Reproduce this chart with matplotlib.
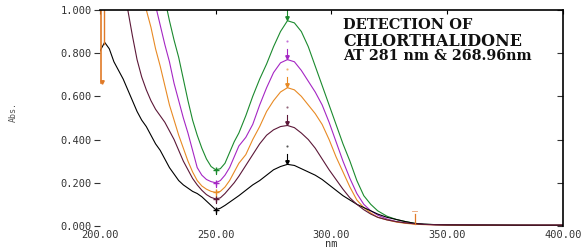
import matplotlib
matplotlib.use('Agg')
import matplotlib.pyplot as plt
import numpy as np

# wavelength grid (nm) shared by all spectra
wl = [200, 202, 204, 206, 208, 210, 212, 214, 216, 218, 220, 222, 224, 226, 228,
      230, 232, 234, 236, 238, 240, 242, 244, 246, 248, 250, 252, 254, 256, 258,
      260, 263, 266, 269, 272, 275, 278, 281, 284, 287, 290, 293, 296, 299, 302,
      305, 308, 311, 314, 317, 320, 324, 328, 332, 336, 340, 345, 350, 360, 370,
      380, 390, 400]

abs_black = [0.81, 0.85, 0.82, 0.76, 0.72, 0.68, 0.63, 0.58, 0.53, 0.49, 0.46, 0.42,
             0.38, 0.35, 0.31, 0.27, 0.24, 0.21, 0.19, 0.175, 0.16, 0.15, 0.135,
             0.115, 0.095, 0.075, 0.082, 0.095, 0.11, 0.125, 0.14, 0.165, 0.19, 0.21,
             0.235, 0.26, 0.275, 0.285, 0.28, 0.265, 0.25, 0.235, 0.215, 0.19, 0.165,
             0.14, 0.12, 0.10, 0.085, 0.07, 0.055, 0.04, 0.03, 0.02, 0.012, 0.008,
             0.006, 0.005, 0.004, 0.004, 0.003, 0.003, 0.003]
abs_maroon = [1.6, 1.5, 1.4, 1.3, 1.2, 1.08, 1.0, 0.88, 0.77, 0.69, 0.63, 0.58, 0.54,
              0.51, 0.48, 0.44, 0.40, 0.35, 0.30, 0.26, 0.22, 0.19, 0.165, 0.145,
              0.132, 0.125, 0.13, 0.15, 0.175, 0.20, 0.23, 0.28, 0.33, 0.38, 0.42,
              0.445, 0.46, 0.465, 0.455, 0.43, 0.40, 0.36, 0.31, 0.26, 0.215, 0.17,
              0.13, 0.10, 0.075, 0.055, 0.04, 0.028, 0.02, 0.014, 0.01, 0.007, 0.006,
              0.005, 0.005, 0.004, 0.004, 0.004, 0.004]
abs_orange = [2.0, 1.9, 1.8, 1.7, 1.6, 1.5, 1.4, 1.3, 1.2, 1.08, 1.0, 0.92, 0.82, 0.74,
              0.65, 0.56, 0.49, 0.42, 0.36, 0.30, 0.25, 0.21, 0.185, 0.17, 0.16,
              0.155, 0.16, 0.18, 0.21, 0.25, 0.29, 0.33, 0.40, 0.46, 0.53, 0.58, 0.62,
              0.64, 0.63, 0.60, 0.56, 0.52, 0.47, 0.40, 0.32, 0.25, 0.18, 0.12, 0.085,
              0.06, 0.04, 0.028, 0.018, 0.012, 0.008, 0.006, 0.005, 0.004, 0.003,
              0.003, 0.003, 0.003, 0.003]
abs_purple = [2.2, 2.1, 2.0, 1.9, 1.8, 1.7, 1.6, 1.5, 1.4, 1.3, 1.2, 1.1, 1.02, 0.93,
              0.84, 0.76, 0.66, 0.58, 0.50, 0.43, 0.35, 0.27, 0.235, 0.215, 0.205,
              0.20, 0.21, 0.235, 0.27, 0.32, 0.37, 0.41, 0.47, 0.56, 0.64, 0.71, 0.755,
              0.77, 0.76, 0.72, 0.67, 0.62, 0.56, 0.48, 0.39, 0.30, 0.22, 0.15, 0.10,
              0.07, 0.05, 0.032, 0.02, 0.014, 0.01, 0.007, 0.005, 0.004, 0.004,
              0.003, 0.003, 0.003, 0.003]
abs_green = [2.5, 2.4, 2.3, 2.2, 2.1, 2.0, 1.9, 1.8, 1.7, 1.6, 1.5, 1.38, 1.26, 1.15,
             1.05, 0.95, 0.86, 0.78, 0.68, 0.58, 0.49, 0.42, 0.36, 0.31, 0.275, 0.26,
             0.265, 0.29, 0.34, 0.39, 0.43, 0.51, 0.60, 0.68, 0.75, 0.83, 0.90, 0.95,
             0.94, 0.90, 0.83, 0.74, 0.65, 0.56, 0.47, 0.38, 0.30, 0.21, 0.14, 0.10,
             0.07, 0.045, 0.03, 0.02, 0.012, 0.008, 0.006, 0.005, 0.004, 0.004,
             0.004, 0.003, 0.003]

series = [('#1b8a2e', abs_green), ('#a526c4', abs_purple), ('#e88a24', abs_orange),
          ('#000000', abs_black), ('#5c1838', abs_maroon)]

peak_nm = 281
min_nm = 250
orange_mark_nm = 336

fig = plt.figure(figsize=(5.85, 2.48), dpi=100)
ax = fig.add_axes([0.171, 0.089, 0.791, 0.871])

for c, y in series:
    ax.plot(wl, y, color=c, lw=0.8, clip_on=True)
    yy = np.array(y)
    pk = yy[wl.index(peak_nm)]
    mn = yy[wl.index(min_nm)]
    ax.plot([peak_nm, peak_nm], [pk + 0.005, pk + 0.05], color=c, lw=0.8)
    ax.plot(peak_nm, pk + 0.012, marker='v', ms=2.5, color=c)
    ax.plot(peak_nm, pk + 0.085, marker='.', ms=1.2, color=c, alpha=0.6)
    ax.plot(min_nm, mn, marker='+', ms=4, mew=1.0, color=c)
    ax.plot([min_nm, min_nm], [mn - 0.02, mn + 0.01], color=c, lw=0.8)

# orange peak-pick markers at the left edge and near 336 nm
ax.plot([200.4, 200.4], [1.0, 0.66], color='#e07a28', lw=1.2)
ax.plot([201.6, 201.6], [1.0, 0.84], color='#e07a28', lw=1.0)
ax.plot(200.8, 0.665, marker='v', ms=2.5, color='#e07a28')
ax.plot([orange_mark_nm, orange_mark_nm], [0.008, 0.055], color='#e07a28', lw=0.9)
ax.plot([orange_mark_nm - 1, orange_mark_nm + 1], [0.07, 0.07], color='#e9a070', lw=0.6)

ax.set_xlim(200, 400)
ax.set_ylim(0, 1.0)
ax.set_xticks([200, 250, 300, 350, 400])
ax.set_xticklabels(['200.00', '250.00', '300.00', '350.00', '400.00'])
ax.set_yticks([0, 0.2, 0.4, 0.6, 0.8, 1.0])
ax.set_yticklabels(['0.000', '0.200', '0.400', '0.600', '0.800', '1.000'])

for sp in ['left', 'bottom']:
    ax.spines[sp].set_visible(False)
ax.spines['top'].set_linewidth(1.2)
ax.spines['right'].set_linewidth(1.2)

ax.tick_params(axis='y', left=True, right=True, direction='out', length=4, width=0.8,
               pad=2, labelsize=7.5, labelcolor='#333333', color='#333333')
ax.tick_params(axis='x', bottom=False, top=True, direction='in', length=3, width=0.8,
               pad=3, labelsize=7.5, labelcolor='#333333')
for lab in ax.get_xticklabels() + ax.get_yticklabels():
    lab.set_family('DejaVu Sans Mono')
for t in ax.yaxis.get_ticklines()[1::2]:
    t.set_marker(0)
    t.set_markersize(4)

ax.set_xlabel('nm', family='DejaVu Sans Mono', fontsize=7.5, color='#333333', labelpad=-1)
fig.text(0.022, 0.55, 'Abs.', rotation=90, fontsize=6, color='#555555',
         family='DejaVu Sans Mono', ha='center', va='center')

title_kw = dict(transform=ax.transAxes, family='DejaVu Serif', weight='bold',
                color='#111111', va='center')
ax.text(0.525, 0.93, 'DETECTION OF', fontsize=10.5, **title_kw)
ax.text(0.525, 0.856, 'CHLORTHALIDONE', fontsize=11.5, **title_kw)
ax.text(0.525, 0.785, 'AT 281 nm & 268.96nm', fontsize=10.3, **title_kw)

fig.savefig('out.png', dpi=100)
